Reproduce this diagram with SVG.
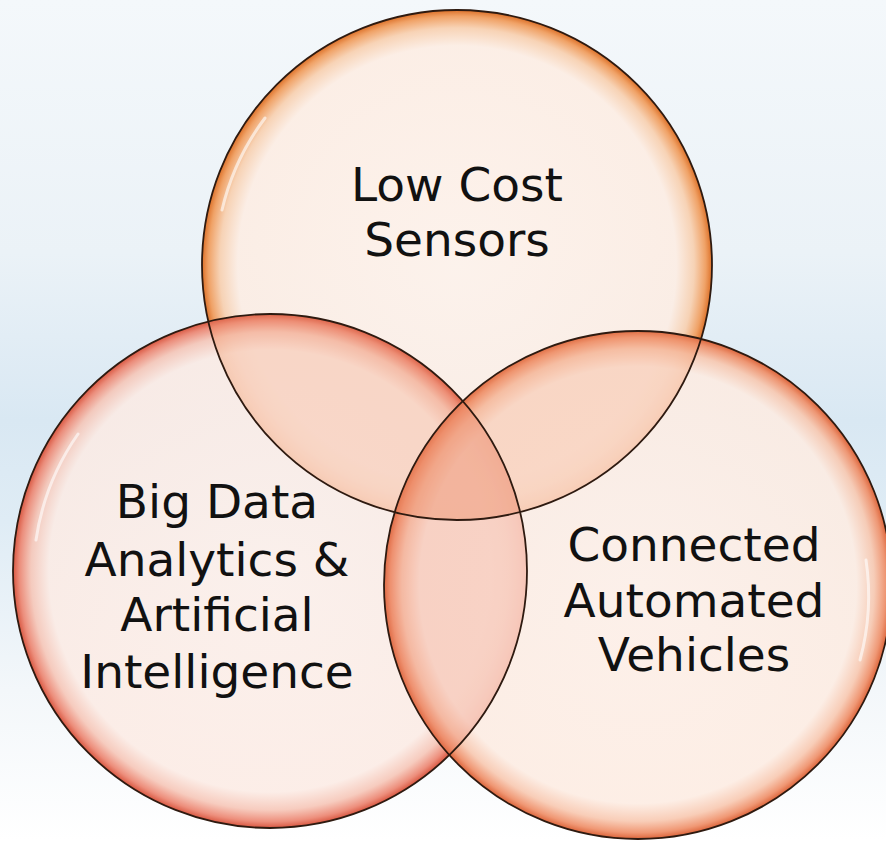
<svg xmlns="http://www.w3.org/2000/svg" width="886" height="841" viewBox="0 0 886 841">
  <defs>
    <linearGradient id="bg" x1="0" y1="0" x2="0" y2="1">
      <stop offset="0" stop-color="#f4f8fb"/>
      <stop offset="0.3" stop-color="#ebf2f7"/>
      <stop offset="0.5" stop-color="#d9e8f3"/>
      <stop offset="0.62" stop-color="#dfecf5"/>
      <stop offset="0.82" stop-color="#f3f7fa"/>
      <stop offset="1" stop-color="#ffffff"/>
    </linearGradient>
    <radialGradient id="gTop" cx="0.5" cy="0.5" r="0.5">
      <stop offset="0" stop-color="#fff2ea" stop-opacity="0.88"/>
      <stop offset="0.86" stop-color="#fdede3" stop-opacity="0.88"/>
      <stop offset="0.93" stop-color="#f8cfae" stop-opacity="0.9"/>
      <stop offset="0.975" stop-color="#f09c5c" stop-opacity="0.93"/>
      <stop offset="1" stop-color="#dc7028" stop-opacity="1"/>
    </radialGradient>
    <radialGradient id="gLeft" cx="0.5" cy="0.5" r="0.5">
      <stop offset="0" stop-color="#fef0ea" stop-opacity="0.86"/>
      <stop offset="0.86" stop-color="#fcebe4" stop-opacity="0.86"/>
      <stop offset="0.93" stop-color="#f6c5b6" stop-opacity="0.88"/>
      <stop offset="0.975" stop-color="#ec8672" stop-opacity="0.93"/>
      <stop offset="1" stop-color="#d85640" stop-opacity="1"/>
    </radialGradient>
    <radialGradient id="gRight" cx="0.5" cy="0.5" r="0.5">
      <stop offset="0" stop-color="#fff0e8" stop-opacity="0.88"/>
      <stop offset="0.86" stop-color="#fdece2" stop-opacity="0.88"/>
      <stop offset="0.93" stop-color="#f8c8b0" stop-opacity="0.9"/>
      <stop offset="0.975" stop-color="#ef906a" stop-opacity="0.93"/>
      <stop offset="1" stop-color="#dc643a" stop-opacity="1"/>
    </radialGradient>
    <clipPath id="cTop"><circle cx="457" cy="265" r="255"/></clipPath>
    <clipPath id="cLeft"><circle cx="270" cy="571" r="257"/></clipPath>
    <clipPath id="cRight"><circle cx="638" cy="585" r="254"/></clipPath>
    <style>
      .ring { fill: none; stroke: #2e1a10; stroke-width: 1.8; }
      .lens { fill: #ee9468; fill-opacity: 0.24; }
      .hl { fill: none; stroke: #ffffff; stroke-width: 3; stroke-opacity: 0.6; stroke-linecap: round; }
      .lbl { font-family: "DejaVu Sans", "Liberation Sans", sans-serif; font-size: 47px; fill: #111111; text-anchor: middle; }
    </style>
  </defs>

  <rect x="0" y="0" width="886" height="841" fill="url(#bg)"/>

  <g id="fills">
    <circle cx="457" cy="265" r="255" fill="url(#gTop)"/>
    <circle cx="270" cy="571" r="257" fill="url(#gLeft)"/>
    <circle cx="638" cy="585" r="254" fill="url(#gRight)"/>
  </g>

  <g id="overlaps">
    <circle class="lens" cx="270" cy="571" r="257" clip-path="url(#cTop)"/>
    <circle class="lens" cx="638" cy="585" r="254" clip-path="url(#cTop)"/>
    <circle class="lens" cx="638" cy="585" r="254" clip-path="url(#cLeft)" style="fill:#ea7e66"/>
  </g>

  <g id="node-top">
    <circle class="ring" cx="457" cy="265" r="255"/>
    <path class="hl" d="M 265 118 A 245 245 0 0 0 222 210"/>
    <text class="lbl" x="457" y="201">Low Cost</text>
    <text class="lbl" x="457" y="256">Sensors</text>
  </g>

  <g id="node-left">
    <circle class="ring" cx="270" cy="571" r="257"/>
    <path class="hl" d="M 78 434 A 247 247 0 0 0 36 540"/>
    <text class="lbl" x="217" y="518">Big Data</text>
    <text class="lbl" x="217" y="576">Analytics &amp;</text>
    <text class="lbl" x="217" y="631">Artificial</text>
    <text class="lbl" x="217" y="688">Intelligence</text>
  </g>

  <g id="node-right">
    <circle class="ring" cx="638" cy="585" r="254"/>
    <path class="hl" d="M 866 560 A 244 244 0 0 1 860 660"/>
    <text class="lbl" x="694" y="561">Connected</text>
    <text class="lbl" x="694" y="617">Automated</text>
    <text class="lbl" x="694" y="671">Vehicles</text>
  </g>

  <g id="connectors"/>
</svg>
